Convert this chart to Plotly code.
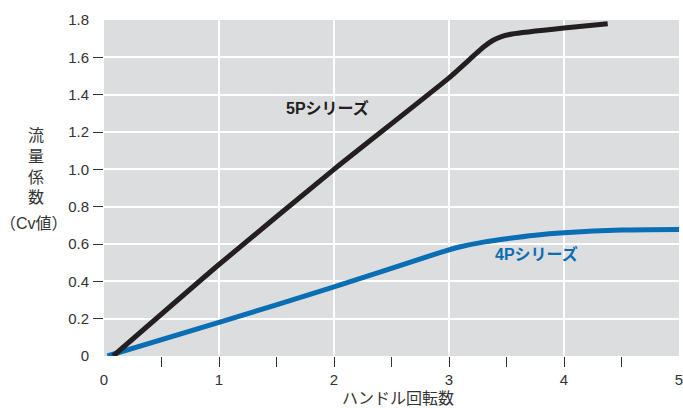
import plotly.graph_objects as go

# 5P series
x_5p = [0.08, 1.0, 2.0, 3.0, 3.3, 3.38, 3.45, 3.55, 4.0, 4.38]
y_5p = [0.0, 0.49, 1.0, 1.49, 1.655, 1.69, 1.71, 1.725, 1.757, 1.78]
# 4P series
x_4p = [0.03, 1.0, 2.0, 2.9, 3.1, 3.3, 3.5, 3.75, 4.0, 4.5, 5.0]
y_4p = [0.0, 0.18, 0.37, 0.55, 0.585, 0.61, 0.628, 0.647, 0.66, 0.675, 0.678]

x_ticks = [0, 1, 2, 3, 4, 5]
x_minor = [0.5, 1, 1.5, 2, 2.5, 3, 3.5, 4, 4.5]
y_ticks = [0, 0.2, 0.4, 0.6, 0.8, 1.0, 1.2, 1.4, 1.6, 1.8]
y_ticklabels = ["0", "0.2", "0.4", "0.6", "0.8", "1.0", "1.2", "1.4", "1.6", "1.8"]
y_minor = [0.2, 0.4, 0.6, 0.8, 1.0, 1.2, 1.4, 1.6]

BLACK = "#231f20"
BLUE = "#0a6eb4"
FONT = "Liberation Sans, Arial, Noto Sans CJK JP"

fig = go.Figure()
fig.add_trace(go.Scatter(x=x_4p, y=y_4p, mode="lines",
                         line=dict(color=BLUE, width=5, shape="spline", smoothing=0.6),
                         showlegend=False, hoverinfo="skip"))
fig.add_trace(go.Scatter(x=x_5p, y=y_5p, mode="lines",
                         line=dict(color=BLACK, width=5, shape="spline", smoothing=0.5),
                         showlegend=False, hoverinfo="skip"))
# invisible trace to activate tick axes
fig.add_trace(go.Scatter(x=[None], y=[None], xaxis="x2", yaxis="y2", showlegend=False))

fig.update_layout(
    width=683, height=408,
    margin=dict(l=104, r=4, t=20, b=52, autoexpand=False),
    paper_bgcolor="white",
    plot_bgcolor="#dcdddf",
    font=dict(family=FONT, size=15, color="#231f20"),
    xaxis=dict(range=[0, 5], tickvals=x_ticks, ticktext=[str(v) for v in x_ticks],
               showgrid=True, gridcolor="white", gridwidth=1.5, ticks="",
               showline=False, zeroline=False, ticklabelstandoff=13,
               ticklabeloverflow="allow",
               tickfont=dict(size=15, color="#333")),
    yaxis=dict(range=[0, 1.8], tickvals=y_ticks, ticktext=y_ticklabels,
               showgrid=True, gridcolor="white", gridwidth=1.5, ticks="",
               showline=False, zeroline=False, ticklabelstandoff=14,
               ticklabeloverflow="allow",
               tickfont=dict(size=15, color="#333")),
    xaxis2=dict(range=[0, 5], overlaying="x", side="bottom", tickvals=x_minor,
                showticklabels=False, ticks="outside", ticklen=10, tickwidth=1,
                tickcolor="#333", showgrid=False, zeroline=False, showline=False,
                anchor="y"),
    yaxis2=dict(range=[0, 1.8], overlaying="y", side="left", tickvals=y_minor,
                showticklabels=False, ticks="outside", ticklen=10, tickwidth=1,
                tickcolor="#333", showgrid=False, zeroline=False, showline=False,
                anchor="x"),
)

pw, ph = 575.0, 336.0
def px(xp):
    return (xp - 104) / pw
def py(yp):
    return (356 - yp) / ph

fig.add_annotation(x=1.94, y=1.33, xref="x", yref="y", text="<b>5Pシリーズ</b>",
                   showarrow=False, font=dict(size=16, color=BLACK, family=FONT))
fig.add_annotation(x=3.76, y=0.545, xref="x", yref="y", text="<b>4Pシリーズ</b>",
                   showarrow=False, font=dict(size=16, color=BLUE, family=FONT))
fig.add_annotation(x=px(398), y=py(398), xref="paper", yref="paper",
                   xanchor="center", yanchor="middle",
                   text="ハンドル回転数", showarrow=False,
                   font=dict(size=16, color="#333", family=FONT))
fig.add_annotation(x=px(36), y=py(166), xref="paper", yref="paper",
                   xanchor="center", yanchor="middle",
                   text="流<br>量<br>係<br>数", showarrow=False,
                   font=dict(size=16, color="#333", family=FONT))
fig.add_annotation(x=px(34), y=py(223), xref="paper", yref="paper",
                   xanchor="center", yanchor="middle",
                   text="（Cv値）", showarrow=False,
                   font=dict(size=16, color="#333", family=FONT))

fig.write_html("out.html", config={"displayModeBar": False},
               post_script="document.body.style.margin='0';document.body.style.overflow='hidden';")
